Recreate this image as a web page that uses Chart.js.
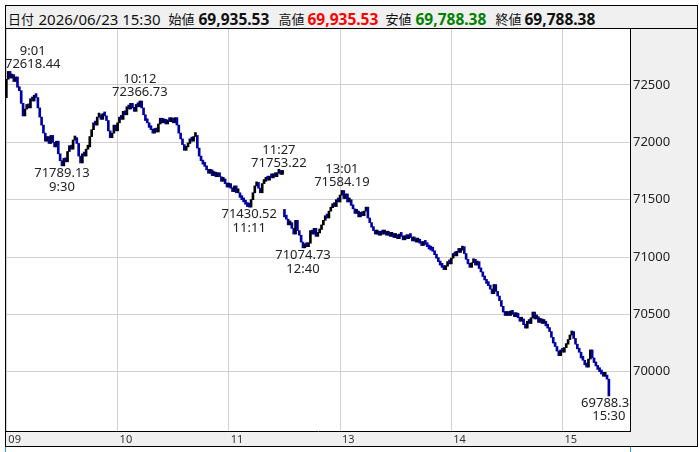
<!DOCTYPE html>
<html lang="ja">
<head>
<meta charset="UTF-8">
<title>1分足 2026/06/23</title>
<script src="https://cdn.jsdelivr.net/npm/chart.js"></script>
<style>
  body { margin: 0; background: #fff; font-family: "Noto Sans", "Noto Sans CJK JP", sans-serif; }
  #head { position: absolute; left: 5px; top: 5px; width: 693px; height: 24px; box-sizing: border-box; border: 1px solid #000; background: #f0f0f0; color: #111; }
  #head span { position: absolute; top: 2px; line-height: 22px; white-space: nowrap; }
  #head .k { font-family: "Noto Sans CJK JP"; font-size: 13px; }
  #head .v { font-size: 15px; }
  #head .b { font-size: 15.5px; font-weight: bold; }
  #wrap { position: absolute; left: 5px; top: 29px; width: 693px; height: 418px; box-sizing: border-box; border: 1px solid #000; border-top: none; background: #f0f0f0; }
  #box { position: relative; width: 691px; height: 417px; }
  .tick { position: absolute; top: 447px; width: 1px; height: 5px; background: #2a9fd8; }
</style>
</head>
<body>
<div id="head"></div>
<div id="wrap"><div id="box"><canvas id="chart"></canvas></div></div>
<div class="tick" style="left:5px"></div>
<div class="tick" style="left:630px"></div>
<script>
// 1-minute closes, morning 9:00-11:29 (slot 0..149)
const amOpen = 72390;
const amCloses = [
  72550, 72618, 72560, 72590, 72530, 72570, 72480, 72450, 72340, 72230,
  72290, 72330, 72300, 72380, 72360, 72410, 72390, 72300, 72220, 72150,
  72080, 72010, 72050, 71990, 72060, 72000, 71960, 72010, 71900, 71840,
  71795, 71860, 71830, 71920, 71970, 71940, 72020, 72040, 71990, 71880,
  71820, 71900, 71880, 71940, 71960, 72050, 72110, 72170, 72150, 72220,
  72240, 72200, 72250, 72230, 72190, 72100, 72040, 72080, 72150, 72100,
  72170, 72220, 72200, 72270, 72240, 72310, 72290, 72340, 72300, 72270,
  72330, 72310, 72360, 72300, 72240, 72190, 72170, 72130, 72110, 72080,
  72120, 72090, 72160, 72210, 72170, 72200, 72160, 72190, 72180, 72210,
  72170, 72215, 72150, 72080, 72030, 71980, 71930, 71960, 71990, 72030,
  72010, 72050, 72060, 71950, 71880, 71840, 71810, 71790, 71760, 71730,
  71760, 71710, 71740, 71700, 71730, 71700, 71660, 71680, 71640, 71610,
  71640, 71600, 71570, 71620, 71560, 71560, 71520, 71500, 71480, 71460,
  71440, 71435, 71500, 71560, 71620, 71650, 71600, 71560, 71640, 71660,
  71690, 71670, 71700, 71690, 71720, 71700, 71730, 71750, 71720, 71730
];
// afternoon 12:30-15:24 (slot 150..324), then the 15:30 close (slot 325)
const pmOpen = 71415;
const pmCloses = [
  71350, 71330, 71280, 71300, 71250, 71200, 71320, 71230, 71190, 71130,
  71080, 71110, 71090, 71120, 71230, 71200, 71250, 71180, 71210, 71240,
  71280, 71320, 71360, 71340, 71400, 71430, 71460, 71440, 71500, 71480,
  71540, 71580, 71510, 71550, 71480, 71500, 71450, 71420, 71380, 71400,
  71350, 71390, 71360, 71400, 71435, 71340, 71300, 71260, 71230, 71200,
  71220, 71190, 71210, 71200, 71220, 71190, 71210, 71180, 71200, 71170,
  71190, 71160, 71200, 71180, 71150, 71180, 71160, 71190, 71170, 71140,
  71160, 71130, 71150, 71120, 71100, 71130, 71110, 71090, 71070, 71060,
  71050, 71020, 70990, 70960, 70930, 70910, 70890, 70920, 70960, 70940,
  70990, 71030, 71010, 71050, 71040, 71060, 71090, 71030, 70980, 70940,
  70910, 70950, 70980, 70930, 70960, 70900, 70870, 70830, 70800, 70770,
  70750, 70720, 70680, 70760, 70700, 70660, 70620, 70570, 70520, 70490,
  70520, 70490, 70530, 70500, 70480, 70510, 70470, 70440, 70460, 70410,
  70380, 70440, 70420, 70470, 70520, 70460, 70480, 70430, 70460, 70420,
  70440, 70400, 70380, 70350, 70300, 70250, 70220, 70180, 70140, 70190,
  70170, 70210, 70240, 70280, 70320, 70350, 70290, 70240, 70200, 70170,
  70120, 70100, 70060, 70040, 70110, 70190, 70120, 70080, 70050, 70020,
  70000, 69980, 69960, 69970, 69935.53, 69788.38
];
const pmStart = 150;

const hourTicks = [0, 60, 120, 180, 240, 300];
const hourLabels = ['09', '10', '11', '13', '14', '15'];
const priceTicks = [70000, 70500, 71000, 71500, 72000, 72500];

const highSlots = [1, 72, 147, 181];
const highVals = [72618.44, 72366.73, 71753.22, 71584.19];
const highTimes = ['9:01', '10:12', '11:27', '13:01'];
const lowSlots = [30, 131, 160, 325];
const lowVals = [71789.13, 71430.52, 71074.73, 69788.38];
const lowTimes = ['9:30', '11:11', '12:40', '15:30'];

const headDate = '2026/06/23 15:30';
const headNames = ['始値', '高値', '安値', '終値'];
const headVals = [69935.53, 69935.53, 69788.38, 69788.38];

// header line
const fmt = v => v.toLocaleString('en-US', { minimumFractionDigits: 2, maximumFractionDigits: 2 });
const head = document.getElementById('head');
const headColors = ['#111', '#ff0000', '#008000', '#111'];
const nameLeft = [162.5, 272.5, 379.5, 489.5];
const valLeft = [192.5, 301.5, 409.5, 518.5];
let html = '<span class="k" style="left:2px">日付</span><span class="v" style="left:32.5px">' + headDate + '</span>';
headNames.forEach((n, i) => {
  html += '<span class="k" style="left:' + nameLeft[i] + 'px">' + n + '</span>';
  html += '<span class="b" style="left:' + valLeft[i] + 'px;color:' + headColors[i] + '">' + fmt(headVals[i]) + '</span>';
});
head.innerHTML = html;

// candles: body from previous close to close
const candles = [];
let prev = amOpen;
amCloses.forEach((c, i) => { candles.push({ x: i, y: [prev, c] }); prev = c; });
prev = pmOpen;
pmCloses.forEach((c, i) => { candles.push({ x: pmStart + i, y: [prev, c] }); prev = c; });
const barColors = candles.map(d => d.y[1] >= d.y[0] ? '#000000' : '#0000a8');

// no label overhang padding: the plot fills the frame edge to edge
const noPad = s => { s.paddingTop = 0; s.paddingBottom = 0; s.paddingLeft = 0; s.paddingRight = 0; };

const plotBg = {
  id: 'plotBg',
  beforeDraw(chart) {
    const { ctx, chartArea: a } = chart;
    ctx.save();
    ctx.fillStyle = '#ffffff';
    ctx.fillRect(a.left, a.top, a.right - a.left, a.bottom - a.top);
    ctx.restore();
  }
};

const notes = {
  id: 'notes',
  afterDatasetsDraw(chart) {
    const { ctx, chartArea: a, scales: { x, y } } = chart;
    ctx.save();
    ctx.beginPath();
    ctx.rect(a.left, a.top, a.right - a.left, a.bottom - a.top);
    ctx.clip();
    ctx.font = '13px "Noto Sans"';
    ctx.fillStyle = '#222';
    ctx.textAlign = 'center';
    ctx.textBaseline = 'middle';
    const put = (slot, v, t, up) => {
      const txt = v.toFixed(2);
      const w = ctx.measureText(txt).width;
      const cx = Math.max(x.getPixelForValue(slot), a.left + w / 2 - 1);
      const py = y.getPixelForValue(v);
      if (up) {
        ctx.fillText(txt, cx, py - 7.5);
        ctx.fillText(t, cx, py - 20.5);
      } else {
        ctx.fillText(txt, cx, py + 7);
        ctx.fillText(t, cx, py + 20.5);
      }
    };
    highSlots.forEach((s, i) => put(s, highVals[i], highTimes[i], true));
    lowSlots.forEach((s, i) => put(s, lowVals[i], lowTimes[i], false));
    ctx.restore();
  }
};

new Chart(document.getElementById('chart'), {
  type: 'bar',
  data: {
    datasets: [{
      data: candles,
      backgroundColor: barColors,
      borderWidth: 0,
      barThickness: 2,
      minBarLength: 4
    }]
  },
  options: {
    animation: false,
    responsive: true,
    maintainAspectRatio: false,
    layout: { padding: 0 },
    plugins: { legend: { display: false }, tooltip: { enabled: false } },
    scales: {
      x: {
        type: 'linear',
        min: -0.2,
        max: 336.4,
        offset: false,
        afterBuildTicks: s => { s.ticks = hourTicks.map(v => ({ value: v })); },
        afterFit: s => { s.height = 15; noPad(s); },
        grid: { color: '#d0d0d0', drawTicks: false, offset: false },
        border: { color: '#000' },
        ticks: {
          align: 'start', maxRotation: 0, autoSkip: false, padding: 2, labelOffset: 2,
          color: '#333', font: { size: 11, family: 'Noto Sans' },
          callback: v => hourLabels[hourTicks.indexOf(v)]
        }
      },
      y: {
        position: 'right',
        min: 69483,
        max: 72988,
        afterBuildTicks: s => { s.ticks = priceTicks.map(v => ({ value: v })); },
        afterFit: s => { s.width = 67; noPad(s); },
        grid: { color: '#d0d0d0', drawTicks: false },
        border: { color: '#000' },
        ticks: { padding: 3, color: '#222', font: { size: 13, family: 'Noto Sans' }, callback: v => String(v) }
      }
    }
  },
  plugins: [plotBg, notes]
});
</script>
</body>
</html>
